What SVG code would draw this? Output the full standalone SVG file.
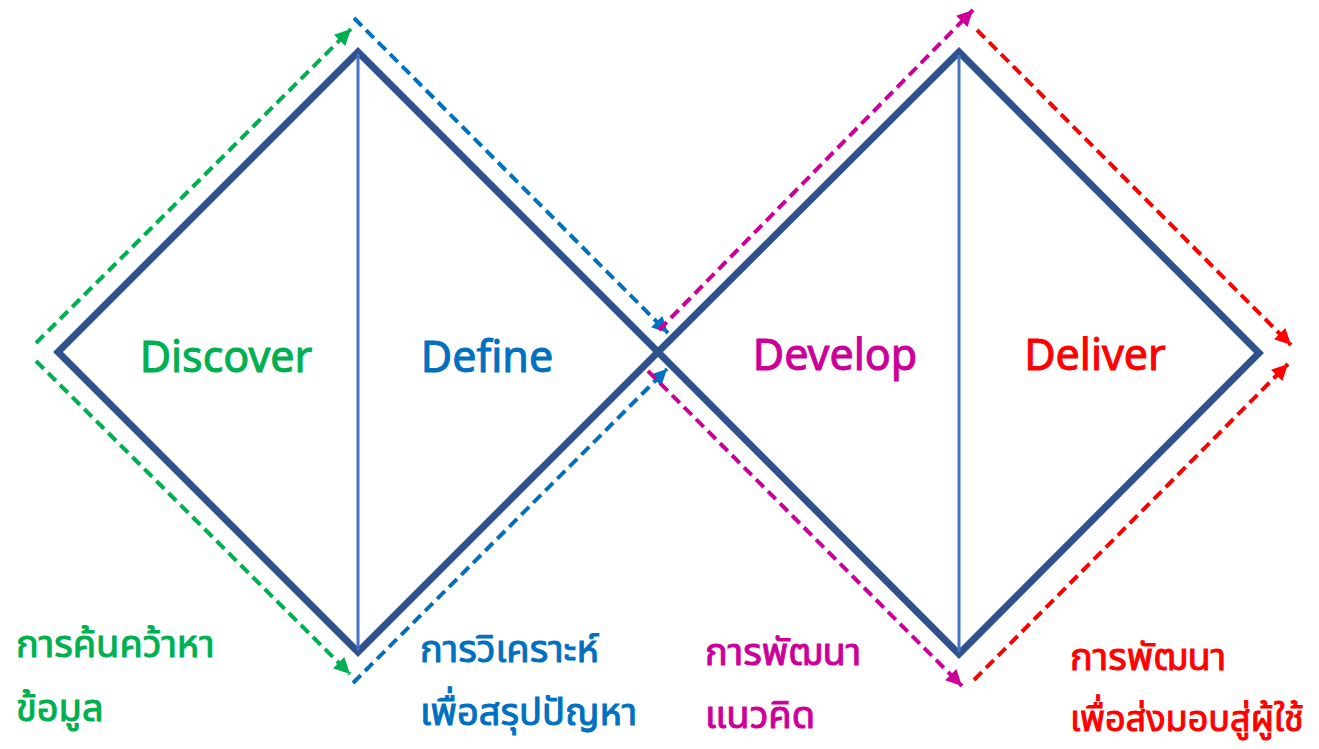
<svg xmlns="http://www.w3.org/2000/svg" width="1319" height="749" viewBox="0 0 1319 749">
  <style>
    .frame { fill: none; stroke: #2F528F; stroke-width: 7; stroke-linejoin: miter; }
    .divider { stroke: #4472C4; stroke-width: 3; }
    .dash { fill: none; stroke-width: 4; stroke-dasharray: 11 6; }
    .title { font-family: "Noto Sans Thai", "Noto Sans", "DejaVu Sans", sans-serif; font-size: 43px; text-anchor: middle; }
    .note { font-family: "Noto Sans Thai", "Noto Sans", "DejaVu Sans", sans-serif; font-size: 38px; font-weight: normal; }
    .green { fill: #00B050; stroke: #00B050; }
    .blue { fill: #0070C0; stroke: #0070C0; }
    .magenta { fill: #CC0099; stroke: #CC0099; }
    .red { fill: #FF0000; stroke: #FF0000; }
  </style>
  <defs>
    <marker id="ah-green" viewBox="0 0 10 10" refX="10" refY="5" markerUnits="userSpaceOnUse" markerWidth="18" markerHeight="16" orient="auto"><path d="M0,0 L10,5 L0,10 z" fill="#00B050"/></marker>
    <marker id="ah-blue" viewBox="0 0 10 10" refX="10" refY="5" markerUnits="userSpaceOnUse" markerWidth="18" markerHeight="16" orient="auto"><path d="M0,0 L10,5 L0,10 z" fill="#0070C0"/></marker>
    <marker id="ah-magenta" viewBox="0 0 10 10" refX="10" refY="5" markerUnits="userSpaceOnUse" markerWidth="18" markerHeight="16" orient="auto"><path d="M0,0 L10,5 L0,10 z" fill="#CC0099"/></marker>
    <marker id="ah-red" viewBox="0 0 10 10" refX="10" refY="5" markerUnits="userSpaceOnUse" markerWidth="18" markerHeight="16" orient="auto"><path d="M0,0 L10,5 L0,10 z" fill="#FF0000"/></marker>
  </defs>

  <!-- first diamond: discover / define -->
  <g id="diamond-problem">
    <polygon class="frame" points="58,352 358,52 658,352 358,652"/>
    <line class="divider" x1="358" y1="54" x2="358" y2="650"/>
  </g>

  <!-- second diamond: develop / deliver -->
  <g id="diamond-solution">
    <polygon class="frame" points="658,352 959,52 1259,353 959,654"/>
    <line class="divider" x1="959" y1="55" x2="959" y2="652"/>
  </g>

  <!-- dashed phase arrows -->
  <g id="connectors">
    <line class="dash green" x1="36" y1="343" x2="351" y2="29" marker-end="url(#ah-green)"/>
    <line class="dash green" x1="36" y1="361" x2="350" y2="674" marker-end="url(#ah-green)"/>
    <line class="dash blue" x1="354" y1="18" x2="668" y2="333" marker-end="url(#ah-blue)"/>
    <line class="dash blue" x1="353" y1="683" x2="667" y2="369" marker-end="url(#ah-blue)"/>
    <line class="dash magenta" x1="659" y1="330" x2="973" y2="10" marker-end="url(#ah-magenta)"/>
    <line class="dash magenta" x1="648" y1="371" x2="962" y2="686" marker-end="url(#ah-magenta)"/>
    <line class="dash red" x1="977" y1="30" x2="1291" y2="345" marker-end="url(#ah-red)"/>
    <line class="dash red" x1="974" y1="680" x2="1288" y2="364" marker-end="url(#ah-red)"/>
  </g>

  <g id="label-discover">
    <text class="title green" stroke="none" x="226" y="372">Discover</text>
    <text class="note green" stroke="none" x="16" y="657">การค้นคว้าหา</text>
    <text class="note green" stroke="none" x="16" y="721">ข้อมูล</text>
  </g>
  <g id="label-define">
    <text class="title blue" stroke="none" x="487" y="372">Define</text>
    <text class="note blue" stroke="none" x="420" y="662">การวิเคราะห์</text>
    <text class="note blue" stroke="none" x="420" y="725">เพื่อสรุปปัญหา</text>
  </g>
  <g id="label-develop">
    <text class="title magenta" stroke="none" x="835" y="370">Develop</text>
    <text class="note magenta" stroke="none" x="705" y="665">การพัฒนา</text>
    <text class="note magenta" stroke="none" x="705" y="728">แนวคิด</text>
  </g>
  <g id="label-deliver">
    <text class="title red" stroke="none" x="1095" y="370">Deliver</text>
    <text class="note red" stroke="none" x="1070" y="670">การพัฒนา</text>
    <text class="note red" stroke="none" x="1070" y="731" style="font-size:36px">เพื่อส่งมอบสู่ผู้ใช้</text>
  </g>
</svg>
